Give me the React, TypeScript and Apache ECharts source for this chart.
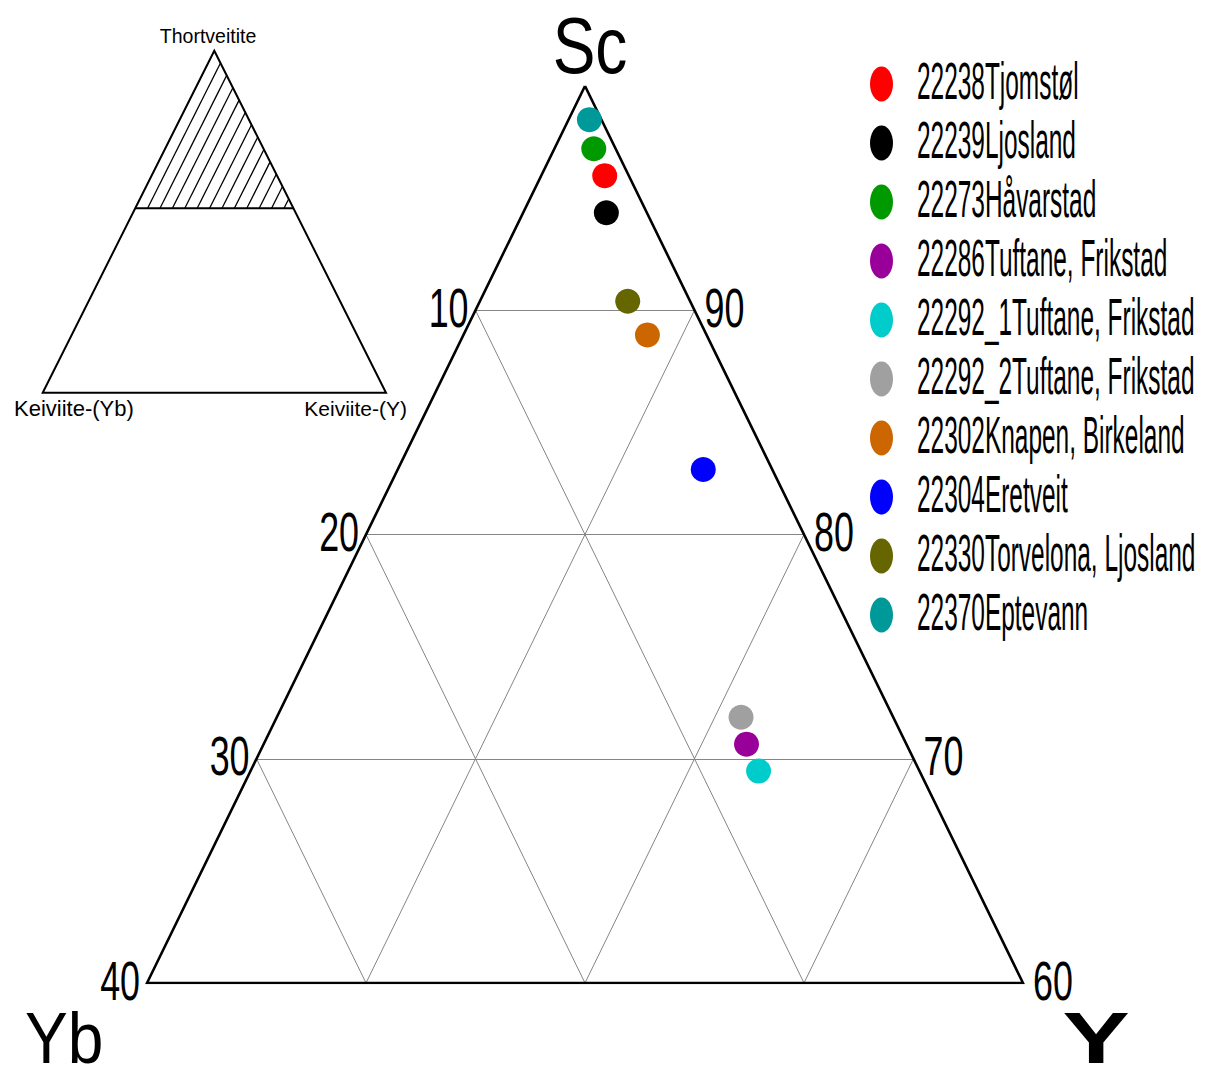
import React, { useEffect, useRef } from "react";
import * as echarts from "echarts";

// ---- data ----
const sampleNames = [
  "22238Tjomstøl",
  "22239Ljosland",
  "22273Håvarstad",
  "22286Tuftane, Frikstad",
  "22292_1Tuftane, Frikstad",
  "22292_2Tuftane, Frikstad",
  "22302Knapen, Birkeland",
  "22304Eretveit",
  "22330Torvelona, Ljosland",
  "22370Eptevann",
];
const sampleColors = [
  "#ff0000",
  "#000000",
  "#009900",
  "#990099",
  "#00cccc",
  "#a0a0a0",
  "#cc6600",
  "#0000ff",
  "#666600",
  "#009999",
];
// ternary composition (%): Sc, Y, Yb
const scValues = [96.0, 94.35, 97.2, 70.65, 69.45, 71.85, 88.9, 82.9, 90.4, 98.5];
const yValues = [2.9, 3.8, 1.8, 22.05, 23.2, 21.2, 8.4, 13.95, 6.75, 0.95];
const ybValues = [1.1, 1.85, 1.0, 7.3, 7.35, 6.95, 2.7, 3.15, 2.85, 0.55];

const scLevels = [90, 80, 70, 60];
const leftTickLabels = ["10", "20", "30", "40"];
const rightTickLabels = ["90", "80", "70", "60"];
const gridSteps = [10, 20, 30];
const scMin = 60;

const toCart = (sc: number, y: number, yb: number): [number, number] => {
  const s = sc + y + yb;
  return [((y - yb) / s) * 100, (sc / s) * 100];
};

const FONT = "Liberation Sans, Arial, sans-serif";

export default function App() {
  const ref = useRef<HTMLDivElement>(null);

  useEffect(() => {
    document.body.style.margin = "0";
    const chart = echarts.init(ref.current!, null, { renderer: "svg" });

    const span = 100 - scMin;
    const apex = toCart(100, 0, 0);
    const bl = toCart(scMin, 0, span);
    const br = toCart(scMin, span, 0);

    const gridLines: any[] = [];
    gridSteps.forEach((v) => {
      const s = 100 - v;
      gridLines.push({ coords: [toCart(s, 0, v), toCart(s, v, 0)] });
      gridLines.push({ coords: [toCart(100 - v, v, 0), toCart(scMin, v, span - v)] });
      gridLines.push({ coords: [toCart(100 - v, 0, v), toCart(scMin, span - v, v)] });
    });

    const scatterSeries = sampleNames.map((name, i) => ({
      type: "scatter",
      name,
      symbol: "circle",
      symbolSize: 25,
      z: 5,
      itemStyle: { color: sampleColors[i], opacity: 1 },
      data: [toCart(scValues[i], yValues[i], ybValues[i])],
    }));

    chart.setOption({
      animation: false,
      backgroundColor: "#ffffff",
      grid: { left: 147, right: 189, top: 86, bottom: 96 },
      xAxis: { type: "value", min: -span, max: span, show: false },
      yAxis: { type: "value", min: scMin, max: 100, show: false },
      series: [
        {
          type: "lines",
          coordinateSystem: "cartesian2d",
          silent: true,
          z: 1,
          lineStyle: { color: "#858585", width: 1, opacity: 1 },
          data: gridLines,
        },
        {
          type: "lines",
          coordinateSystem: "cartesian2d",
          polyline: true,
          silent: true,
          z: 2,
          lineStyle: { color: "#000000", width: 2.6, opacity: 1, join: "miter" } as any,
          data: [{ coords: [apex, bl, br, apex] }],
        },
        ...scatterSeries,
      ],
    });

    const px = (p: [number, number]) => chart.convertToPixel({ gridIndex: 0 }, p) as number[];

    const g: any[] = [];
    // tick labels
    scLevels.forEach((s, i) => {
      const l = px(toCart(s, 0, 100 - s));
      const r = px(toCart(s, 100 - s, 0));
      g.push({
        type: "text",
        x: l[0] - 7,
        y: l[1] - 3,
        scaleX: 0.64,
        style: {
          text: leftTickLabels[i],
          fontFamily: FONT,
          fontSize: 56,
          fill: "#000",
          align: "right",
          verticalAlign: "middle",
        },
      });
      g.push({
        type: "text",
        x: r[0] + 10,
        y: r[1] - 3,
        scaleX: 0.64,
        style: {
          text: rightTickLabels[i],
          fontFamily: FONT,
          fontSize: 56,
          fill: "#000",
          align: "left",
          verticalAlign: "middle",
        },
      });
    });

    // big corner labels
    g.push({
      type: "text",
      x: 590,
      y: 45,
      scaleX: 0.8,
      style: { text: "Sc", fontFamily: FONT, fontSize: 80, fill: "#000", align: "center", verticalAlign: "middle" },
    });
    g.push({
      type: "text",
      x: 25,
      y: 1038,
      scaleX: 0.89,
      style: { text: "Yb", fontFamily: FONT, fontSize: 72, fill: "#000", align: "left", verticalAlign: "middle" },
    });
    g.push({
      type: "text",
      x: 1096,
      y: 1038,
      scaleX: 1.4,
      style: {
        text: "Y",
        fontFamily: FONT,
        fontSize: 72,
        fontWeight: "bold",
        fill: "#000",
        align: "center",
        verticalAlign: "middle",
      },
    });

    // legend
    sampleNames.forEach((name, i) => {
      const cy = 84 + i * 59;
      g.push({
        type: "ellipse",
        shape: { cx: 881.5, cy, rx: 11.5, ry: 17.5 },
        style: { fill: sampleColors[i] },
      });
      g.push({
        type: "text",
        x: 917,
        y: cy - 3,
        scaleX: 0.47,
        style: {
          text: name,
          fontFamily: FONT,
          fontSize: 52,
          fill: "#000",
          align: "left",
          verticalAlign: "middle",
        },
      });
    });

    // inset schematic triangle
    const iA = [214.3, 50.7];
    const iL = [42.7, 392.7];
    const iR = [386, 392.7];
    const cutY = 208.3;
    const cutL = 135.2;
    const cutR = 293.4;
    const dx = iA[0] - cutL;
    const dy = cutY - iA[1];
    for (let k = 1; k <= 12; k++) {
      const x0 = cutL + k * 12.4;
      if (x0 >= cutR - 2) break;
      const t = (cutR - x0) / (2 * dx);
      g.push({
        type: "line",
        shape: { x1: x0, y1: cutY, x2: x0 + dx * t, y2: cutY - dy * t },
        style: { stroke: "#000", lineWidth: 1.3 },
      });
    }
    g.push({
      type: "polygon",
      shape: { points: [iA, iL, iR] },
      style: { fill: "none", stroke: "#000", lineWidth: 2, lineJoin: "miter" },
    });
    g.push({
      type: "line",
      shape: { x1: cutL, y1: cutY, x2: cutR, y2: cutY },
      style: { stroke: "#000", lineWidth: 2 },
    });
    g.push({
      type: "text",
      x: 208,
      y: 36,
      style: { text: "Thortveitite", fontFamily: FONT, fontSize: 19.5, fill: "#000", align: "center", verticalAlign: "middle" },
    });
    g.push({
      type: "text",
      x: 14,
      y: 408,
      style: { text: "Keiviite-(Yb)", fontFamily: FONT, fontSize: 22, fill: "#000", align: "left", verticalAlign: "middle" },
    });
    g.push({
      type: "text",
      x: 407,
      y: 408,
      style: { text: "Keiviite-(Y)", fontFamily: FONT, fontSize: 21, fill: "#000", align: "right", verticalAlign: "middle" },
    });

    chart.setOption({ graphic: { elements: g } });

    return () => chart.dispose();
  }, []);

  return <div ref={ref} style={{ width: 1212, height: 1079, background: "#fff" }} />;
}
